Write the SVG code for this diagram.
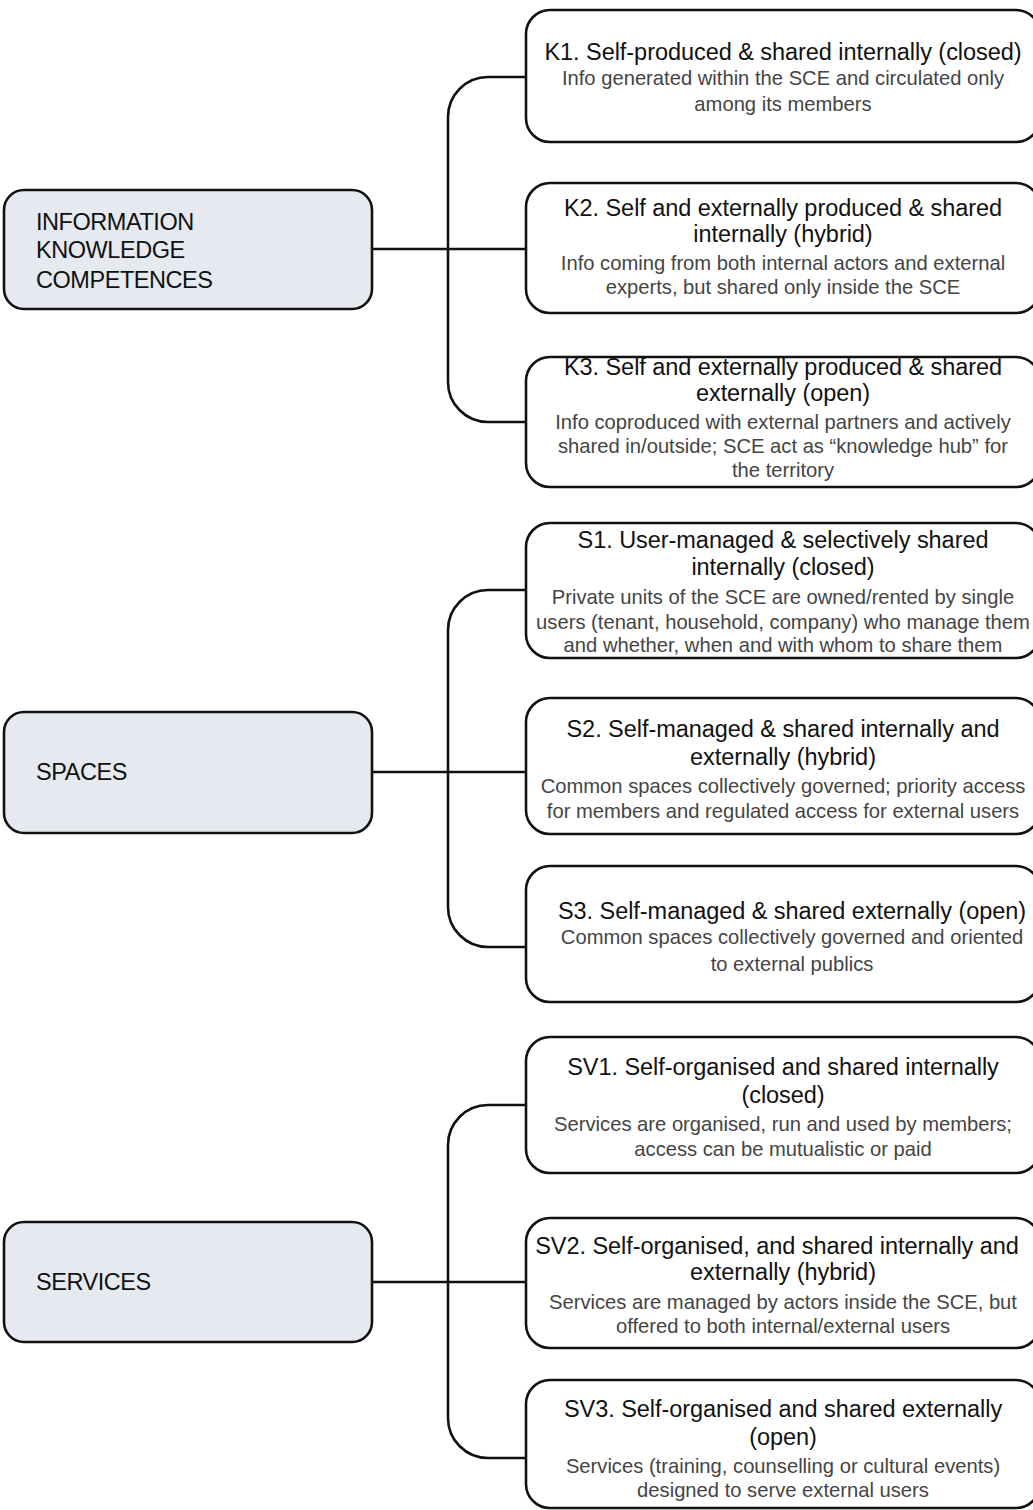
<svg xmlns="http://www.w3.org/2000/svg" width="1033" height="1510" viewBox="0 0 1033 1510">
<style>
.cat{fill:#e6eaf0;stroke:#111;stroke-width:2.6}
.opt{fill:#fff;stroke:#111;stroke-width:2.6}
.catt{font-family:"Liberation Sans",Arial,sans-serif;font-size:23.5px;letter-spacing:-0.45px;fill:#111}
.tt{font-family:"Liberation Sans",Arial,sans-serif;font-size:23.5px;letter-spacing:-0.05px;fill:#111;text-anchor:middle}
.dd{font-family:"Liberation Sans",Arial,sans-serif;font-size:20.2px;fill:#444;text-anchor:middle}
.conn{fill:none;stroke:#111;stroke-width:2.6}
</style>
<rect width="1033" height="1510" fill="#fff"/>
<g id="connectors">
<path class="conn" d="M526,77 H488 A40,40 0 0 0 448,117 V382 A40,40 0 0 0 488,422 H526"/>
<path class="conn" d="M372,249 H526"/>
<path class="conn" d="M526,590 H488 A40,40 0 0 0 448,630 V907 A40,40 0 0 0 488,947 H526"/>
<path class="conn" d="M372,772 H526"/>
<path class="conn" d="M526,1105 H488 A40,40 0 0 0 448,1145 V1418 A40,40 0 0 0 488,1458 H526"/>
<path class="conn" d="M372,1282 H526"/>
</g>
<g id="info">
<rect class="cat" x="4" y="190" width="368" height="119" rx="20"/>
<text class="catt" x="36" y="230">INFORMATION</text>
<text class="catt" x="36" y="258">KNOWLEDGE</text>
<text class="catt" x="36" y="288">COMPETENCES</text>
</g>
<g id="spaces">
<rect class="cat" x="4" y="712" width="368" height="121" rx="20"/>
<text class="catt" x="36" y="780">SPACES</text>
</g>
<g id="services">
<rect class="cat" x="4" y="1222" width="368" height="120" rx="20"/>
<text class="catt" x="36" y="1290">SERVICES</text>
</g>
<g id="k1">
<rect class="opt" x="526" y="10" width="514" height="132" rx="24"/>
<text class="tt" x="783" y="60">K1. Self-produced &amp; shared internally (closed)</text>
<text class="dd" x="783" y="85">Info generated within the SCE and circulated only</text>
<text class="dd" x="783" y="111">among its members</text>
</g>
<g id="k2">
<rect class="opt" x="526" y="183" width="514" height="130" rx="24"/>
<text class="tt" x="783" y="216">K2. Self and externally produced &amp; shared</text>
<text class="tt" x="783" y="242">internally (hybrid)</text>
<text class="dd" x="783" y="270">Info coming from both internal actors and external</text>
<text class="dd" x="783" y="294">experts, but shared only inside the SCE</text>
</g>
<g id="k3">
<rect class="opt" x="526" y="357" width="514" height="130" rx="24"/>
<text class="tt" x="783" y="375">K3. Self and externally produced &amp; shared</text>
<text class="tt" x="783" y="401">externally (open)</text>
<text class="dd" x="783" y="429">Info coproduced with external partners and actively</text>
<text class="dd" x="783" y="453">shared in/outside; SCE act as “knowledge hub” for</text>
<text class="dd" x="783" y="477">the territory</text>
</g>
<g id="s1">
<rect class="opt" x="526" y="523" width="514" height="135" rx="24"/>
<text class="tt" x="783" y="548">S1. User-managed &amp; selectively shared</text>
<text class="tt" x="783" y="575">internally (closed)</text>
<text class="dd" x="783" y="604">Private units of the SCE are owned/rented by single</text>
<text class="dd" x="783" y="629">users (tenant, household, company) who manage them</text>
<text class="dd" x="783" y="652">and whether, when and with whom to share them</text>
</g>
<g id="s2">
<rect class="opt" x="526" y="698" width="514" height="136" rx="24"/>
<text class="tt" x="783" y="737">S2. Self-managed &amp; shared internally and</text>
<text class="tt" x="783" y="765">externally (hybrid)</text>
<text class="dd" x="783" y="793">Common spaces collectively governed; priority access</text>
<text class="dd" x="783" y="818">for members and regulated access for external users</text>
</g>
<g id="s3">
<rect class="opt" x="526" y="866" width="514" height="136" rx="24"/>
<text class="tt" x="792" y="919">S3. Self-managed &amp; shared externally (open)</text>
<text class="dd" x="792" y="944">Common spaces collectively governed and oriented</text>
<text class="dd" x="792" y="971">to external publics</text>
</g>
<g id="sv1">
<rect class="opt" x="526" y="1037" width="514" height="136" rx="24"/>
<text class="tt" x="783" y="1075">SV1. Self-organised and shared internally</text>
<text class="tt" x="783" y="1103">(closed)</text>
<text class="dd" x="783" y="1131">Services are organised, run and used by members;</text>
<text class="dd" x="783" y="1156">access can be mutualistic or paid</text>
</g>
<g id="sv2">
<rect class="opt" x="526" y="1218" width="514" height="130" rx="24"/>
<text class="tt" x="777" y="1254">SV2. Self-organised, and shared internally and</text>
<text class="tt" x="783" y="1280">externally (hybrid)</text>
<text class="dd" x="783" y="1309">Services are managed by actors inside the SCE, but</text>
<text class="dd" x="783" y="1333">offered to both internal/external users</text>
</g>
<g id="sv3">
<rect class="opt" x="526" y="1380" width="514" height="128" rx="24"/>
<text class="tt" x="783" y="1417">SV3. Self-organised and shared externally</text>
<text class="tt" x="783" y="1445">(open)</text>
<text class="dd" x="783" y="1473">Services (training, counselling or cultural events)</text>
<text class="dd" x="783" y="1497">designed to serve external users</text>
</g>
</svg>
